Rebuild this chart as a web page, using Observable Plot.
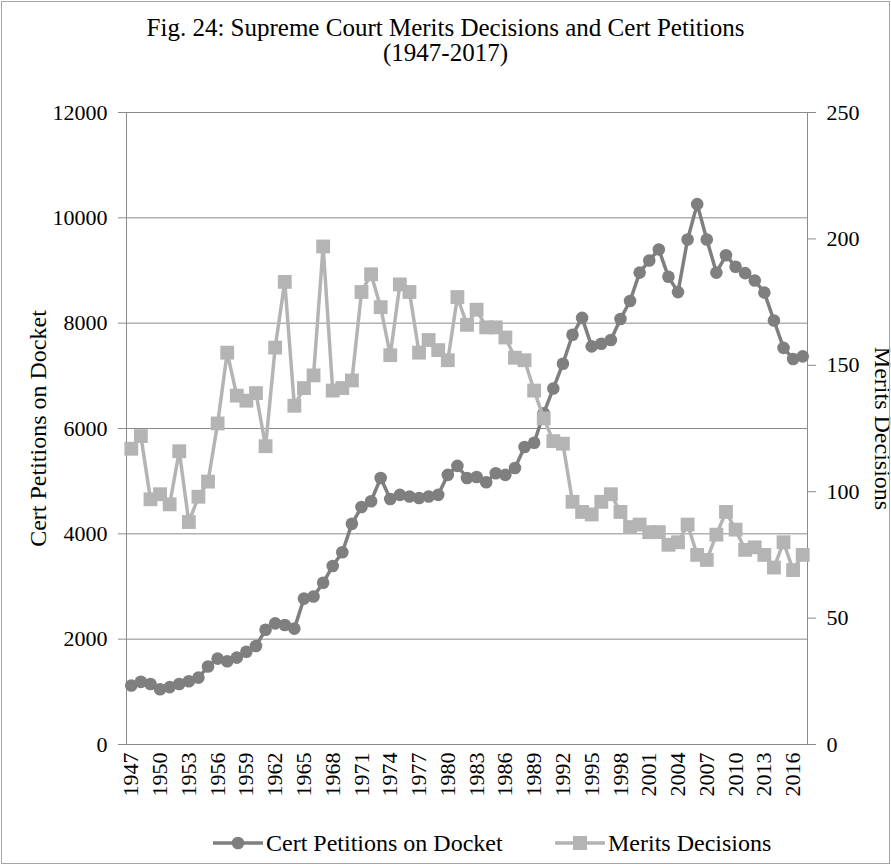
<!DOCTYPE html>
<html>
<head>
<meta charset="utf-8">
<script src="https://cdn.jsdelivr.net/npm/d3@7"></script>
<script src="https://cdn.jsdelivr.net/npm/@observablehq/plot@0.6"></script>
<style>
  body { margin: 0; background: #fff; font-family: "Liberation Serif", "Times New Roman", serif; }
  #wrap { position: relative; width: 891px; height: 865px; overflow: hidden; background: #fff; }
  #border { position: absolute; left: 1px; top: 1px; width: 887px; height: 861px; border: 1px solid #a6a6a6; pointer-events: none; }
  #title { height: 65px; padding-top: 15px; box-sizing: border-box; text-align: center; font-size: 25px; line-height: 25px; color: #000; font-family: "Liberation Serif", "Times New Roman", serif; white-space: nowrap; }
  #chart svg { display: block; }
  #legend { position: relative; height: 60px; font-size: 24px; color: #000; font-family: "Liberation Serif", "Times New Roman", serif; }
  .item { position: absolute; top: 26px; height: 24px; display: flex; align-items: center; white-space: nowrap; }
  .item svg { display: block; margin-right: 3px; }
</style>
</head>
<body>
<div id="wrap">
  <div id="title">Fig. 24: Supreme Court Merits Decisions and Cert Petitions<br>(1947-2017)</div>
  <div id="chart"></div>
  <div id="legend"></div>
  <div id="border"></div>
</div>
<script>
const years = [1947,1948,1949,1950,1951,1952,1953,1954,1955,1956,1957,1958,1959,1960,1961,1962,1963,1964,1965,1966,1967,1968,1969,1970,1971,1972,1973,1974,1975,1976,1977,1978,1979,1980,1981,1982,1983,1984,1985,1986,1987,1988,1989,1990,1991,1992,1993,1994,1995,1996,1997,1998,1999,2000,2001,2002,2003,2004,2005,2006,2007,2008,2009,2010,2011,2012,2013,2014,2015,2016,2017];

const certPetitions = [1120,1190,1150,1050,1090,1150,1200,1270,1480,1630,1580,1650,1760,1870,2180,2300,2270,2200,2770,2810,3070,3390,3650,4190,4510,4620,5060,4660,4740,4710,4680,4710,4740,5120,5290,5060,5080,4980,5150,5120,5250,5650,5730,6290,6760,7230,7780,8100,7560,7610,7680,8080,8420,8960,9190,9400,8880,8590,9590,10260,9590,8960,9290,9070,8950,8810,8580,8050,7530,7320,7370];

const meritsDecisions = [117,122,97,99,95,116,88,98,104,127,155,138,136,139,118,157,183,134,141,146,197,140,141,144,179,186,173,154,182,179,155,160,156,152,177,166,172,165,165,161,153,152,140,129,120,119,96,92,91,96,99,92,86,87,84,84,79,80,87,75,73,83,92,85,77,78,75,70,80,69,75];

const xTickLabels = [1947,1950,1953,1956,1959,1962,1965,1968,1971,1974,1977,1980,1983,1986,1989,1992,1995,1998,2001,2004,2007,2010,2013,2016];
const leftTicks = [0,2000,4000,6000,8000,10000,12000];
const rightTicks = [0,50,100,150,200,250];

const seriesNames = ["Cert Petitions on Docket", "Merits Decisions"];
const leftTitle = "Cert Petitions on Docket";
const rightTitle = "Merits Decisions";

const certColor = "#7f7f7f";
const meritsColor = "#b4b4b4";
const gridColor = "#8a8a8a";
const serif = "'Liberation Serif', 'Times New Roman', serif";

const leftMax = 12000, rightMax = 250;
const k = leftMax / rightMax;

const data = years.map((y, i) => ({year: y, cert: certPetitions[i], merits: meritsDecisions[i] * k}));

const chart = Plot.plot({
  width: 891,
  height: 740,
  marginLeft: 126,
  marginRight: 84,
  marginTop: 47,
  marginBottom: 61,
  style: {fontFamily: serif, fontSize: "22px", background: "transparent", overflow: "visible", color: "#000"},
  x: {type: "point", domain: years, padding: 0.5},
  y: {domain: [0, leftMax]},
  marks: [
    Plot.gridY(leftTicks, {stroke: gridColor, strokeOpacity: 1, strokeWidth: 1}),
    Plot.frame({anchor: "left", stroke: gridColor, strokeWidth: 1}),
    Plot.frame({anchor: "right", stroke: gridColor, strokeWidth: 1}),
    Plot.axisY(leftTicks, {anchor: "left", tickSize: 8, tickPadding: 11, stroke: gridColor, fill: "#000", fontSize: 22, label: null, tickFormat: d => String(d)}),
    Plot.axisY(rightTicks.map(v => v * k), {anchor: "right", tickSize: 8, tickPadding: 11, stroke: gridColor, fill: "#000", fontSize: 22, label: null, tickFormat: d => String(Math.round(d / k))}),
    Plot.axisX(xTickLabels, {anchor: "bottom", tickSize: 0, tickPadding: 8, rotate: -90, textAnchor: "end", lineAnchor: "middle", fill: "#000", fontSize: 22, label: null, tickFormat: d => String(d)}),
    Plot.line(data, {x: "year", y: "cert", stroke: certColor, strokeWidth: 3.5}),
    Plot.dot(data, {x: "year", y: "cert", r: 6.3, fill: certColor, stroke: "none", symbol: "circle"}),
    Plot.line(data, {x: "year", y: "merits", stroke: meritsColor, strokeWidth: 3.5}),
    Plot.dot(data, {x: "year", y: "merits", r: 7.8, fill: meritsColor, stroke: "none", symbol: "square"}),
    Plot.text([leftTitle], {text: d => d, frameAnchor: "left", textAnchor: "middle", dx: -88, rotate: -90, fontSize: 24, fill: "#000"}),
    Plot.text([rightTitle], {text: d => d, frameAnchor: "right", textAnchor: "middle", dx: 75, rotate: 90, fontSize: 24, fill: "#000"})
  ]
});
document.getElementById("chart").appendChild(chart);

// Legend
const legend = d3.select("#legend");
const items = [
  {name: seriesNames[0], color: certColor, symbol: "circle", left: 213},
  {name: seriesNames[1], color: meritsColor, symbol: "square", left: 555}
];
items.forEach(it => {
  const div = legend.append("div").attr("class", "item").style("left", it.left + "px");
  const s = div.append("svg").attr("width", 50).attr("height", 18);
  s.append("line").attr("x1", 0).attr("x2", 50).attr("y1", 9).attr("y2", 9).attr("stroke", it.color).attr("stroke-width", 3.5);
  if (it.symbol === "circle") s.append("circle").attr("cx", 25).attr("cy", 9).attr("r", 6.3).attr("fill", it.color);
  else s.append("rect").attr("x", 18).attr("y", 2).attr("width", 14).attr("height", 14).attr("fill", it.color);
  div.append("span").text(it.name);
});
</script>
</body>
</html>
